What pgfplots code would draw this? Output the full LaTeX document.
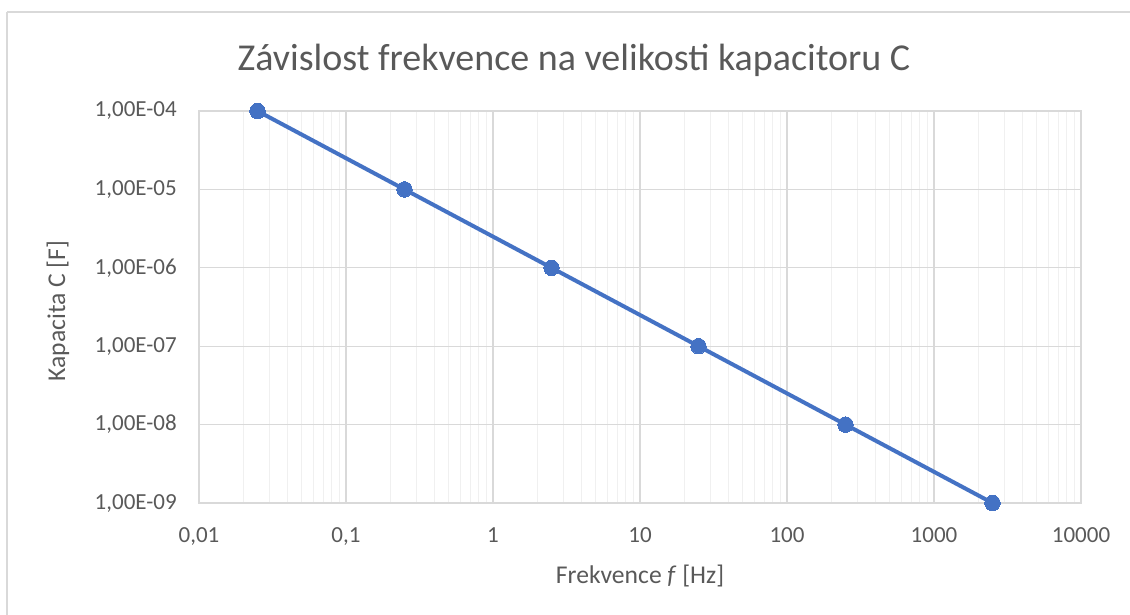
\documentclass[border=0pt]{standalone}
\usepackage{pgfplots}
\pgfplotsset{compat=1.18}
\usepackage{fontspec}
\setmainfont{Carlito}
\definecolor{xlblue}{HTML}{4472C4}
\definecolor{xltext}{HTML}{595959}
\definecolor{xlgrid}{HTML}{D9D9D9}
\definecolor{xlminor}{HTML}{F0F0F0}

\begin{document}
\begin{tikzpicture}[x=0.75pt,y=0.75pt]
% chart frame (pixel units, y up from bottom)
\draw[xlgrid, line width=1.1pt] (7,602) -- (1140,602);
\draw[xlgrid, line width=1.1pt] (7,602) -- (7,-20);
\begin{axis}[
    at={(149.25pt,83.25pt)}, anchor=south west,
    scale only axis,
    width=661.5pt, height=294pt,
    xmode=log, ymode=log,
    xmin=0.01, xmax=10000,
    ymin=1e-9, ymax=1e-4,
    xtick={0.01,0.1,1,10,100,1000,10000},
    xticklabels={{0,01},{0,1},1,10,100,1000,10000},
    ytick={1e-9,1e-8,1e-7,1e-6,1e-5,1e-4},
    yticklabels={{1,00E-09},{1,00E-08},{1,00E-07},{1,00E-06},{1,00E-05},{1,00E-04}},
    major tick length=0pt, minor tick length=0pt,
    xmajorgrids, ymajorgrids, xminorgrids,
    major grid style={xlgrid, line width=0.9pt},
    minor grid style={xlminor, line width=0.9pt},
    axis line style={xlgrid, line width=1pt},
    tick label style={font=\fontsize{17.25}{20}\selectfont, text=xltext, inner sep=0pt},
    yticklabel style={anchor=east, xshift=-16.5pt},
    xticklabel style={anchor=north, yshift=-18pt},
    clip=false,
]
\addplot[xlblue, line width=3pt, mark=*, mark size=5.8pt, mark options={fill=xlblue, draw=xlblue, line width=0pt}]
coordinates {(0.025,1e-4) (0.25,1e-5) (2.5,1e-6) (25,1e-7) (250,1e-8) (2500,1e-9)};
\end{axis}
\node[text=xltext, font=\fontsize{28.5}{32}\selectfont] at (574,554) {Závislost frekvence na velikosti kapacitoru C};
\node[text=xltext, font=\fontsize{19.2}{22}\selectfont] at (640,38) {Frekvence \textit{f} [Hz]};
\node[text=xltext, font=\fontsize{19.2}{22}\selectfont, rotate=90] at (58,303) {Kapacita C [F]};
\pgfresetboundingbox
\useasboundingbox (0,0) rectangle (1130,614);
\end{tikzpicture}
\end{document}
